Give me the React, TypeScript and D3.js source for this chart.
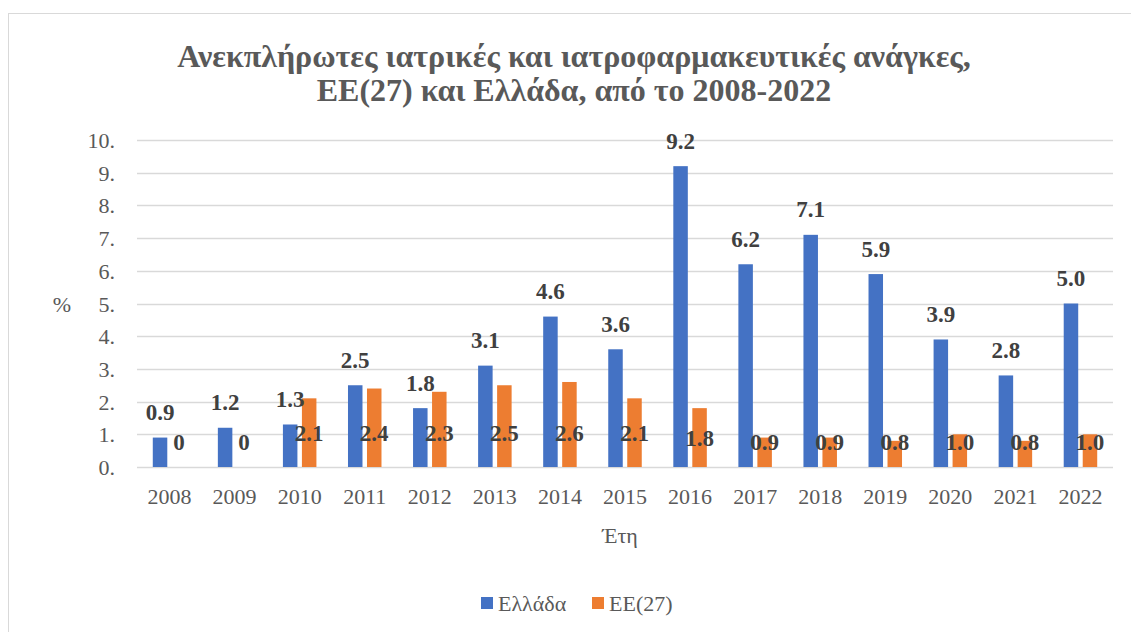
import React from 'react';
import * as d3 from 'd3';

const years = ['2008', '2009', '2010', '2011', '2012', '2013', '2014', '2015', '2016', '2017', '2018', '2019', '2020', '2021', '2022'];
const greece = [0.9, 1.2, 1.3, 2.5, 1.8, 3.1, 4.6, 3.6, 9.2, 6.2, 7.1, 5.9, 3.9, 2.8, 5.0];
const eu27 = [0, 0, 2.1, 2.4, 2.3, 2.5, 2.6, 2.1, 1.8, 0.9, 0.9, 0.8, 1.0, 0.8, 1.0];
const greeceLabels = ['0.9', '1.2', '1.3', '2.5', '1.8', '3.1', '4.6', '3.6', '9.2', '6.2', '7.1', '5.9', '3.9', '2.8', '5.0'];
const euLabels = ['0', '0', '2.1', '2.4', '2.3', '2.5', '2.6', '2.1', '1.8', '0.9', '0.9', '0.8', '1.0', '0.8', '1.0'];
const yTicks = [0, 1, 2, 3, 4, 5, 6, 7, 8, 9, 10];
const seriesNames = ['Ελλάδα', 'ΕΕ(27)'];
const titleLines = ['Ανεκπλήρωτες ιατρικές και ιατροφαρμακευτικές ανάγκες,', 'ΕΕ(27) και Ελλάδα, από το 2008-2022'];

const BLUE = '#4472C4';
const ORANGE = '#ED7D31';
const TEXT = '#595959';
const LABEL = '#404040';
const FONT = "'Liberation Serif', 'DejaVu Serif', serif";

export default function App() {
  const width = 1131;
  const height = 632;
  const x = d3.scaleBand().domain(years).range([137, 1113]);
  const y = d3.scaleLinear().domain([0, 10]).range([467, 140]);
  const barW = 14.5;
  const off = 9.5;

  return (
    <svg width={width} height={height} fontFamily={FONT} style={{ position: 'absolute', left: 0, top: 0 }}>
      <rect x={0} y={0} width={width} height={height} fill="#fff" />
      <rect x={8.5} y={13.5} width={1140} height={640} fill="none" stroke="#D9D9D9" />

      {titleLines.map((t, i) => (
        <text key={i} x={574} y={67 + i * 34} textAnchor="middle" fontSize={32} fontWeight="bold" fill={TEXT}>{t}</text>
      ))}

      {yTicks.map(t => (
        <g key={t}>
          <line x1={137} x2={1113} y1={Math.round(y(t)) + 0.5} y2={Math.round(y(t)) + 0.5} stroke="#D9D9D9" strokeWidth={1.3} />
          <text x={115} y={y(t) + 8} textAnchor="end" fontSize={22} fill={TEXT}>{t + '.'}</text>
        </g>
      ))}
      <text x={62} y={312} textAnchor="middle" fontSize={22} fill={TEXT}>%</text>

      {years.map((yr, i) => {
        const c = (x(yr) as number) + x.bandwidth() / 2;
        const gv = greece[i];
        const ev = eu27[i];
        const euLabelY = y(Math.max(0.75, Math.min(ev / 2, 1.05)));
        return (
          <g key={yr}>
            <rect x={c - off - barW / 2} y={y(gv)} width={barW} height={y(0) - y(gv)} fill={BLUE} />
            {ev > 0 && <rect x={c + off - barW / 2} y={y(ev)} width={barW} height={y(0) - y(ev)} fill={ORANGE} />}
            <text x={c - off} y={y(gv) - 17.5} textAnchor="middle" fontSize={23} fontWeight="bold" fill={LABEL}>{greeceLabels[i]}</text>
            <text x={c + off} y={euLabelY + 8} textAnchor="middle" fontSize={23} fontWeight="bold" fill={LABEL}>{euLabels[i]}</text>
            <text x={c} y={504} textAnchor="middle" fontSize={22} fill={TEXT}>{yr}</text>
          </g>
        );
      })}

      <text x={620} y={543} textAnchor="middle" fontSize={22} fill={TEXT}>Έτη</text>

      <rect x={481} y={597} width={12} height={12} fill={BLUE} />
      <text x={498} y={611} fontSize={22} fill={TEXT}>{seriesNames[0]}</text>
      <rect x={592} y={597} width={12} height={12} fill={ORANGE} />
      <text x={609} y={611} fontSize={22} fill={TEXT}>{seriesNames[1]}</text>
    </svg>
  );
}
